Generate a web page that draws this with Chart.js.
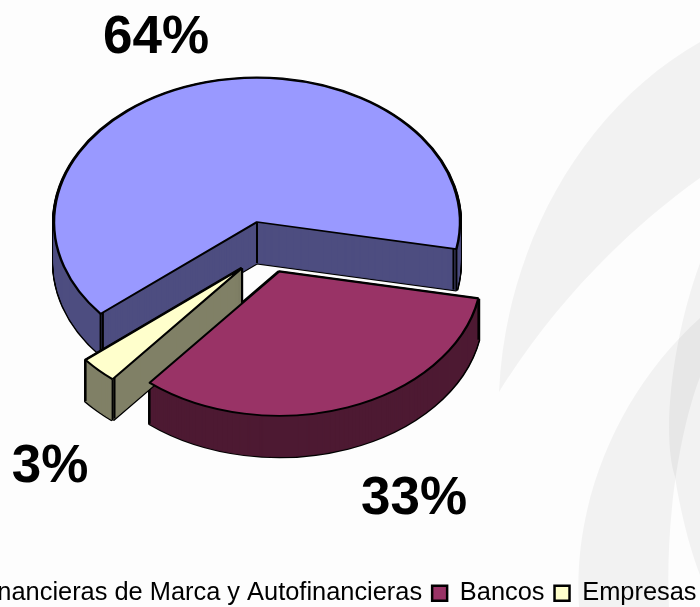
<!DOCTYPE html>
<html>
<head>
<meta charset="utf-8">
<title>Financieras</title>
<script src="https://cdn.jsdelivr.net/npm/chart.js@4"></script>
<style>
    html, body { margin: 0; padding: 0; width: 700px; height: 607px; overflow: hidden; background: #fdfdfd; }
    #marca { position: absolute; left: 0; top: 0; }
    #pie { position: absolute; left: -100px; top: 0; }
</style>
</head>
<body>
<!-- marca de agua de fondo -->
<svg id="marca" width="700" height="607">
    <g fill="#000" fill-opacity="0.045">
        <path d="M499,392 C505,250 580,110 700,42 L700,178 C620,235 550,310 499,392 Z"/>
        <path d="M579,607 C572,500 620,390 700,318 L700,377 C680,430 665,520 669,607 Z"/>
        <path d="M700,263 C675,330 660,430 675,477 C680,510 690,550 700,575 Z"/>
    </g>
</svg>
<canvas id="pie" width="845" height="616"></canvas>
<script>
const labels = ['Financieras de Marca y Autofinancieras', 'Bancos', 'Empresas'];
const shares = [64, 33, 3];
const topColors = ['#9999ff', '#993366', '#ffffcc'];
const wallColors = ['#4d4d80', '#4d1a33', '#808066'];

// centro del pastel y efecto 3D
const centerX = 357;
const centerY = 222;
const squash = 0.71;
const depth = 41;
const explodeX = [0, 22, -15];
const explodeY = [0, 70, 65];
const labelDX = [-101, 135, -192];
const labelDY = [-184, 228, 199];
// arista doble en las esquinas frontales: [inicio, fin] de cada porcion
const doubleEdge = [[true, true], [false, false], [true, false]];

function squashed(ctx, d) {
    ctx.translate(0, centerY + d);
    ctx.scale(1, squash);
    ctx.translate(0, -centerY);
}

const pie3d = {
    id: 'pie3d',
    afterDatasetsUpdate(chart) {
        chart.getDatasetMeta(0).data.forEach((arc, i) => {
            arc.x = centerX + explodeX[i];
            arc.y = centerY + explodeY[i];
        });
    },
    beforeDatasetsDraw(chart) {
        const ctx = chart.ctx;
        chart.getDatasetMeta(0).data.forEach((arc, i) => {
            const opts = arc.options;
            // silueta negra, luego el lateral oscuro encima
            [{ backgroundColor: '#000', borderColor: '#000', borderWidth: 4 },
             { backgroundColor: wallColors[i], borderColor: wallColors[i], borderWidth: 1 }].forEach(style => {
                arc.options = Object.assign({}, opts, style);
                for (let d = depth; d >= 0; d--) {
                    ctx.save();
                    squashed(ctx, d);
                    arc.draw(ctx);
                    ctx.restore();
                }
            });
            arc.options = opts;

            // aristas verticales
            ctx.save();
            ctx.strokeStyle = '#000';
            ctx.lineWidth = 2;
            const sy = y => centerY + (y - centerY) * squash;
            const corners = [[arc.x, sy(arc.y)]];
            [arc.startAngle, arc.endAngle].forEach((a, k) => {
                const r = arc.outerRadius;
                corners.push([arc.x + r * Math.cos(a), sy(arc.y + r * Math.sin(a))]);
                if (doubleEdge[i][k]) {
                    corners.push([arc.x + (r - 3) * Math.cos(a), sy(arc.y + (r - 3) * Math.sin(a))]);
                }
            });
            corners.forEach(p => {
                ctx.beginPath();
                ctx.moveTo(p[0], p[1]);
                ctx.lineTo(p[0], p[1] + depth);
                ctx.stroke();
            });
            ctx.restore();
        });
        ctx.save();
        squashed(ctx, 0);
    },
    afterDatasetsDraw(chart) {
        const ctx = chart.ctx;
        ctx.restore();
        ctx.save();
        ctx.font = 'bold 53px "Liberation Sans", Arial, sans-serif';
        ctx.fillStyle = '#000';
        ctx.textAlign = 'center';
        ctx.textBaseline = 'middle';
        chart.getDatasetMeta(0).data.forEach((arc, i) => {
            const y = centerY + (arc.y - centerY) * squash;
            ctx.fillText(shares[i] + '%', arc.x + labelDX[i], y + labelDY[i]);
        });
        ctx.restore();
    }
};

new Chart(document.getElementById('pie').getContext('2d'), {
    type: 'pie',
    data: {
        labels: labels,
        datasets: [{
            data: shares,
            backgroundColor: topColors,
            borderColor: '#000',
            borderWidth: 2.5,
            radius: 203
        }]
    },
    options: {
        responsive: false,
        animation: false,
        rotation: 230.4,
        plugins: {
            legend: {
                position: 'bottom',
                labels: {
                    color: '#000',
                    boxWidth: 15,
                    boxHeight: 15,
                    padding: 10,
                    font: { size: 25.4, family: '"Liberation Sans", Arial, sans-serif' }
                }
            },
            tooltip: { enabled: false }
        }
    },
    plugins: [pie3d]
});
</script>
</body>
</html>
